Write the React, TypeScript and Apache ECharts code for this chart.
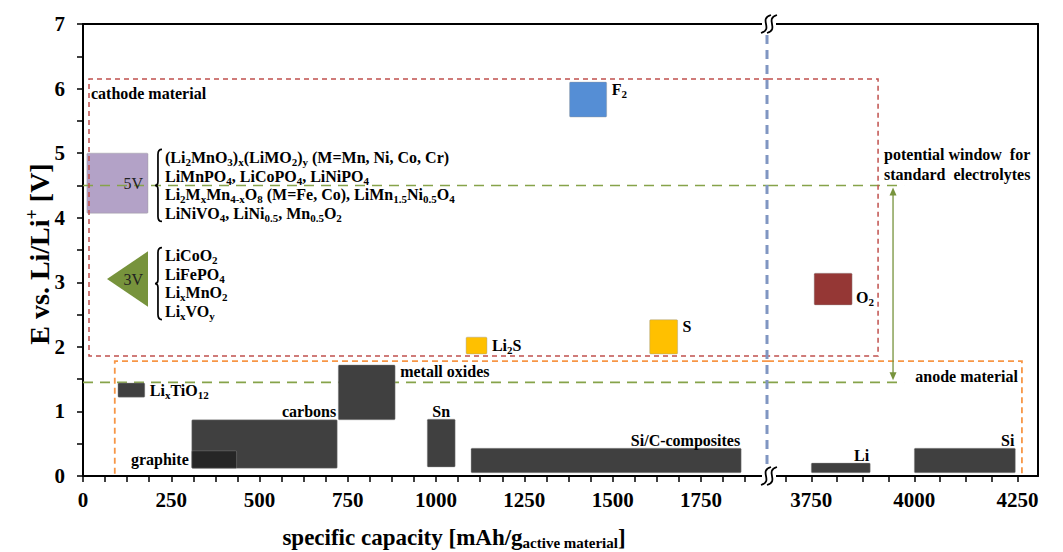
import { useEffect, useRef } from 'react';
import * as echarts from 'echarts';

const SERIF = '"Liberation Serif", "Times New Roman", Times, serif';

// ---------- axes ----------
const yLabels = [0, 1, 2, 3, 4, 5, 6, 7];
const yTicks = [0, 0.5, 1, 1.5, 2, 2.5, 3, 3.5, 4, 4.5, 5, 5.5, 6, 6.5, 7];
const xLeftRange = [0, 1940];
const xRightRange = [3645, 4300];
const xLeftLabels = [0, 250, 500, 750, 1000, 1250, 1500, 1750];
const xLeftTicks = [0, 62.5, 125, 187.5, 250, 312.5, 375, 437.5, 500, 562.5, 625, 687.5, 750, 812.5, 875, 937.5, 1000, 1062.5, 1125, 1187.5, 1250, 1312.5, 1375, 1437.5, 1500, 1562.5, 1625, 1687.5, 1750, 1812.5, 1875];
const xRightLabels = [3750, 4000, 4250];
const xRightTicks = [3687.5, 3750, 3812.5, 3875, 3937.5, 4000, 4062.5, 4125, 4187.5, 4250];

// ---------- anode materials ----------
const anodeLeftNames = ['Li_{x}TiO_{12}', 'carbons', 'graphite', 'metall oxides', 'Sn', 'Si/C-composites'];
const anodeLeftCapacity = [[99, 175], [308, 720], [308, 435], [723, 884], [975, 1054], [1099, 1864]];
const anodeLeftVoltage = [[1.22, 1.44], [0.12, 0.87], [0.12, 0.39], [0.87, 1.72], [0.14, 0.88], [0.05, 0.43]];
const anodeLeftPlace = ['right', 'topRight', 'left', 'rightTop', 'top', 'topRight'];
const anodeLeftColors = ['#404040', '#404040', '#262626', '#404040', '#404040', '#404040'];

const anodeRightNames = ['Li', 'Si'];
const anodeRightCapacity = [[3750, 3893], [4000, 4245]];
const anodeRightVoltage = [[0.05, 0.2], [0.05, 0.43]];
const anodeRightPlace = ['topRight', 'topRight'];

// ---------- conversion cathodes ----------
const convLeftNames = ['F_{2}', 'Li_{2}S', 'S'];
const convLeftCapacity = [[1378, 1483], [1085, 1144], [1605, 1684]];
const convLeftVoltage = [[5.56, 6.1], [1.89, 2.15], [1.89, 2.42]];
const convLeftColors = ['#558ed5', '#ffc000', '#ffc000'];
const convLeftPlace = ['rightTop', 'right', 'rightTop'];

const convRightNames = ['O_{2}'];
const convRightCapacity = [[3757, 3849]];
const convRightVoltage = [[2.65, 3.14]];
const convRightColors = ['#953735'];
const convRightPlace = ['rightBottom'];

// ---------- intercalation cathodes ----------
const highVoltCapacity = [11, 184];
const highVoltVoltage = [4.07, 5.0];
const highVoltFormulas = [
  '(Li_{2}MnO_{3})_{x}(LiMO_{2})_{y} (M=Mn, Ni, Co, Cr)',
  'LiMnPO_{4}, LiCoPO_{4}, LiNiPO_{4}',
  'Li_{2}M_{x}Mn_{4-x}O_{8} (M=Fe, Co), LiMn_{1.5}Ni_{0.5}O_{4}',
  'LiNiVO_{4}, LiNi_{0.5}, Mn_{0.5}O_{2}',
];
const lowVoltCapacity = [68, 184];
const lowVoltVoltage = [2.62, 3.48];
const lowVoltFormulas = ['LiCoO_{2}', 'LiFePO_{4}', 'Li_{x}MnO_{2}', 'Li_{x}VO_{y}'];
const formulaGroupVoltage = [4.5, 2.98];

// ---------- regions ----------
const cathodeBoxCapacity = [17, 3912];
const cathodeBoxVoltage = [1.86, 6.15];
const anodeBoxCapacity = [90, 4261];
const anodeBoxVoltage = [0, 1.78];
const windowVoltage = [1.45, 4.5];
const windowCapacityEnd = 3975;

// ---------- styles ----------
const TXT = '#000';
const RICH: any = {
  n: { fontFamily: SERIF, fontWeight: 'bold', fontSize: 16, lineHeight: 20, fill: TXT },
  s: { fontFamily: SERIF, fontWeight: 'bold', fontSize: 11, lineHeight: 11, fill: TXT, verticalAlign: 'bottom' },
  p: { fontFamily: SERIF, fontWeight: 'bold', fontSize: 11, lineHeight: 11, fill: TXT, verticalAlign: 'top' },
  r: { fontFamily: SERIF, fontWeight: 'normal', fontSize: 16, lineHeight: 20, fill: '#222' },
};

function rt(s: string, n = 'n', sub = 's', sup = 'p') {
  const re = /([_^])\{([^}]*)\}/g;
  let out = '';
  let last = 0;
  let m: RegExpExecArray | null;
  while ((m = re.exec(s))) {
    if (m.index > last) out += `{${n}|${s.slice(last, m.index)}}`;
    out += `{${m[1] === '_' ? sub : sup}|${m[2]}}`;
    last = re.lastIndex;
  }
  if (last < s.length) out += `{${n}|${s.slice(last)}}`;
  return out;
}

type El = (api: any) => any;
const P = (api: any, x: number, y: number): number[] => api.coord([x, y]);

function textObj(x: number, y: number, text: string, align = 'left', va = 'middle', rich = RICH) {
  return { type: 'text', x, y, style: { text, rich, align, verticalAlign: va } };
}

function rectEl(cap: number[], volt: number[], fill: string): El {
  return (api) => {
    const a = P(api, cap[0], volt[1]);
    const b = P(api, cap[1], volt[0]);
    return {
      type: 'rect',
      shape: { x: a[0], y: a[1], width: b[0] - a[0], height: b[1] - a[1], r: 1 },
      style: { fill, stroke: 'rgba(150,150,150,0.5)', lineWidth: 0.8 },
    };
  };
}

function labelEl(cap: number[], volt: number[], name: string, place: string): El {
  return (api) => {
    const a = P(api, cap[0], volt[1]);
    const b = P(api, cap[1], volt[0]);
    let x = b[0] + 5;
    let y = (a[1] + b[1]) / 2;
    let align = 'left';
    if (place === 'rightTop') y = a[1] + 7;
    else if (place === 'rightBottom') { x = b[0] + 4; y = b[1] - 7; }
    else if (place === 'left') { x = a[0] - 3; align = 'right'; }
    else if (place === 'top') { x = (a[0] + b[0]) / 2; y = a[1] - 8; align = 'center'; }
    else if (place === 'topRight') { x = b[0] - 1; y = a[1] - 8; align = 'right'; }
    return textObj(x, y, rt(name), align);
  };
}

function polyEl(pts: number[][], stroke: string, lineWidth: number, lineDash: number[] | null): El {
  return (api) => ({
    type: 'polyline',
    shape: { points: pts.map((p) => P(api, p[0], p[1])) },
    style: { stroke, lineWidth, lineDash: lineDash || undefined, fill: null },
  });
}

function braceGroup(rightCap: number, centerVolt: number, lines: string[]): El[] {
  const spacing = 18.5;
  const els: El[] = [];
  els.push((api) => {
    const c = P(api, rightCap, centerVolt);
    const xl = c[0] + 7;
    const xr = c[0] + 14;
    const xm = c[0] + 10;
    const yt = c[1] - 36;
    const yb = c[1] + 36;
    const ym = c[1];
    const d = `M${xr},${yt} Q${xm},${yt} ${xm},${yt + 5} L${xm},${ym - 4} Q${xm},${ym} ${xl},${ym} Q${xm},${ym} ${xm},${ym + 4} L${xm},${yb - 5} Q${xm},${yb} ${xr},${yb}`;
    return { type: 'path', shape: { pathData: d }, style: { stroke: '#000', lineWidth: 1.7, fill: null } };
  });
  lines.forEach((ln, i) => {
    els.push((api) => {
      const c = P(api, rightCap, centerVolt);
      return textObj(c[0] + 17, c[1] + (i - (lines.length - 1) / 2) * spacing, rt(ln));
    });
  });
  return els;
}

const RED = '#c0504d';
const ORANGE = '#f79646';
const GREEN = '#86a34a';
const OLIVE = '#77933c';
const BLUE = '#8096c2';

function buildLeft(): El[] {
  const [L0, L1] = xLeftRange;
  const els: El[] = [];
  els.push(rectEl(highVoltCapacity, highVoltVoltage, '#b3a2c7'));
  els.push((api) => {
    const tip = P(api, lowVoltCapacity[0], (lowVoltVoltage[0] + lowVoltVoltage[1]) / 2);
    const t = P(api, lowVoltCapacity[1], lowVoltVoltage[1]);
    const b = P(api, lowVoltCapacity[1], lowVoltVoltage[0]);
    return { type: 'polygon', shape: { points: [tip, t, b] }, style: { fill: OLIVE } };
  });
  windowVoltage.forEach((v) => els.push(polyEl([[L0, v], [L1, v]], GREEN, 1.6, [10, 7])));
  els.push(polyEl([[L1, cathodeBoxVoltage[1]], [cathodeBoxCapacity[0], cathodeBoxVoltage[1]], [cathodeBoxCapacity[0], cathodeBoxVoltage[0]], [L1, cathodeBoxVoltage[0]]], RED, 1.5, [5, 4]));
  els.push(polyEl([[L1, anodeBoxVoltage[1]], [anodeBoxCapacity[0], anodeBoxVoltage[1]], [anodeBoxCapacity[0], anodeBoxVoltage[0]]], ORANGE, 1.8, [6, 4]));
  anodeLeftNames.forEach((_, i) => els.push(rectEl(anodeLeftCapacity[i], anodeLeftVoltage[i], anodeLeftColors[i])));
  anodeLeftNames.forEach((nm, i) => els.push(labelEl(anodeLeftCapacity[i], anodeLeftVoltage[i], nm, anodeLeftPlace[i])));
  convLeftNames.forEach((_, i) => els.push(rectEl(convLeftCapacity[i], convLeftVoltage[i], convLeftColors[i])));
  convLeftNames.forEach((nm, i) => els.push(labelEl(convLeftCapacity[i], convLeftVoltage[i], nm, convLeftPlace[i])));
  els.push((api) => {
    const c = P(api, highVoltCapacity[1], (highVoltVoltage[0] + highVoltVoltage[1]) / 2);
    return textObj(c[0] - 5, c[1], '{r|5V}', 'right');
  });
  els.push((api) => {
    const c = P(api, lowVoltCapacity[1], (lowVoltVoltage[0] + lowVoltVoltage[1]) / 2);
    return textObj(c[0] - 5, c[1], '{r|3V}', 'right');
  });
  els.push(...braceGroup(highVoltCapacity[1], formulaGroupVoltage[0], highVoltFormulas));
  els.push(...braceGroup(lowVoltCapacity[1], formulaGroupVoltage[1], lowVoltFormulas));
  els.push((api) => {
    const c = P(api, cathodeBoxCapacity[0], cathodeBoxVoltage[1]);
    return textObj(c[0] + 2, c[1] + 15, rt('cathode material'));
  });
  return els;
}

function buildRight(): El[] {
  const [R0] = xRightRange;
  const els: El[] = [];
  windowVoltage.forEach((v) => els.push(polyEl([[R0, v], [windowCapacityEnd, v]], GREEN, 1.6, [10, 7])));
  els.push(polyEl([[R0, cathodeBoxVoltage[1]], [cathodeBoxCapacity[1], cathodeBoxVoltage[1]], [cathodeBoxCapacity[1], cathodeBoxVoltage[0]], [R0, cathodeBoxVoltage[0]]], RED, 1.5, [5, 4]));
  els.push(polyEl([[R0, anodeBoxVoltage[1]], [anodeBoxCapacity[1], anodeBoxVoltage[1]], [anodeBoxCapacity[1], anodeBoxVoltage[0]]], ORANGE, 1.8, [6, 4]));
  els.push((api) => {
    const end = P(api, windowCapacityEnd, windowVoltage[1]);
    const low = P(api, windowCapacityEnd, windowVoltage[0]);
    const x = end[0] - 11;
    const yt = end[1] + 2;
    const yb = low[1] - 2;
    return {
      type: 'group',
      children: [
        { type: 'line', shape: { x1: x, y1: yt + 5, x2: x, y2: yb - 5 }, style: { stroke: OLIVE, lineWidth: 1.3 } },
        { type: 'polygon', shape: { points: [[x, yt], [x - 3.5, yt + 8], [x + 3.5, yt + 8]] }, style: { fill: OLIVE } },
        { type: 'polygon', shape: { points: [[x, yb], [x - 3.5, yb - 8], [x + 3.5, yb - 8]] }, style: { fill: OLIVE } },
      ],
    };
  });
  anodeRightNames.forEach((_, i) => els.push(rectEl(anodeRightCapacity[i], anodeRightVoltage[i], '#404040')));
  anodeRightNames.forEach((nm, i) => els.push(labelEl(anodeRightCapacity[i], anodeRightVoltage[i], nm, anodeRightPlace[i])));
  convRightNames.forEach((_, i) => els.push(rectEl(convRightCapacity[i], convRightVoltage[i], convRightColors[i])));
  convRightNames.forEach((nm, i) => els.push(labelEl(convRightCapacity[i], convRightVoltage[i], nm, convRightPlace[i])));
  els.push((api) => {
    const c = P(api, cathodeBoxCapacity[1], windowVoltage[1]);
    return textObj(c[0] + 6, c[1] - 1, '{n|potential window  for}\n{n|standard  electrolytes}', 'left', 'bottom');
  });
  els.push((api) => {
    const c = P(api, anodeBoxCapacity[1], anodeBoxVoltage[1]);
    return textObj(c[0] - 4, c[1] + 15, rt('anode material'), 'right');
  });
  els.push((api) => {
    const t = P(api, R0, 7);
    const b = P(api, R0, 0);
    return {
      type: 'line',
      shape: { x1: t[0] - 1, y1: t[1] + 11, x2: t[0] - 1, y2: b[1] - 10 },
      style: { stroke: BLUE, lineWidth: 3, lineDash: [9, 6] },
    };
  });
  [0, 7].forEach((v) => {
    els.push((api) => {
      const c = P(api, R0, v);
      const cx = c[0] + 1;
      const cy = c[1];
      const s = (sx: number) => `M${sx + 5},${cy - 9} C${sx - 8},${cy - 5} ${sx + 8},${cy + 5} ${sx - 5},${cy + 9}`;
      return {
        type: 'group',
        children: [
          { type: 'rect', shape: { x: cx - 7, y: cy - 3, width: 14, height: 6 }, style: { fill: '#fff' } },
          { type: 'path', shape: { pathData: s(cx - 3) }, style: { stroke: '#000', lineWidth: 1.8, fill: null } },
          { type: 'path', shape: { pathData: s(cx + 3) }, style: { stroke: '#000', lineWidth: 1.8, fill: null } },
        ],
      };
    });
  });
  return els;
}

function buildOption() {
  const leftEls = buildLeft();
  const rightEls = buildRight();
  const axisLine = { show: true, onZero: false, lineStyle: { color: '#000', width: 2 } };
  const tick = (vals: number[]) => ({ show: true, customValues: vals, length: 6, inside: false, lineStyle: { color: '#000', width: 1.5 } });
  const lab = (vals: number[], margin: number) => ({
    show: true, customValues: vals, margin, color: '#000', fontFamily: SERIF, fontWeight: 'bold', fontSize: 21,
    formatter: (v: number) => String(v),
  });
  const none = { show: false };
  const title: any = {
    n: { fontFamily: SERIF, fontWeight: 'bold', fontSize: 23, fill: '#000', lineHeight: 27 },
    s: { fontFamily: SERIF, fontWeight: 'bold', fontSize: 15, fill: '#000', lineHeight: 15, verticalAlign: 'bottom' },
  };
  const ytitle: any = {
    n: { fontFamily: SERIF, fontWeight: 'bold', fontSize: 28, fill: '#000', lineHeight: 32 },
    p: { fontFamily: SERIF, fontWeight: 'bold', fontSize: 18, fill: '#000', lineHeight: 18, verticalAlign: 'top' },
  };
  return {
    animation: false,
    backgroundColor: '#fff',
    grid: [
      { left: 83, top: 24, width: 685, height: 452 },
      { left: 768, top: 24, width: 270, height: 452 },
    ],
    xAxis: [
      { gridIndex: 0, type: 'value', min: xLeftRange[0], max: xLeftRange[1], position: 'bottom', axisLine, axisTick: tick(xLeftTicks), axisLabel: lab(xLeftLabels, 13), splitLine: none },
      { gridIndex: 1, type: 'value', min: xRightRange[0], max: xRightRange[1], position: 'bottom', axisLine, axisTick: tick(xRightTicks), axisLabel: lab(xRightLabels, 13), splitLine: none },
      { gridIndex: 0, type: 'value', min: xLeftRange[0], max: xLeftRange[1], position: 'top', axisLine, axisTick: none, axisLabel: none, splitLine: none },
      { gridIndex: 1, type: 'value', min: xRightRange[0], max: xRightRange[1], position: 'top', axisLine, axisTick: none, axisLabel: none, splitLine: none },
    ],
    yAxis: [
      { gridIndex: 0, type: 'value', min: 0, max: 7, position: 'left', axisLine, axisTick: tick(yTicks), axisLabel: lab(yLabels, 18), splitLine: none },
      { gridIndex: 1, type: 'value', min: 0, max: 7, position: 'right', axisLine, axisTick: none, axisLabel: none, splitLine: none },
    ],
    graphic: [
      { type: 'text', x: 454, y: 537, style: { text: '{n|specific capacity [mAh/g}{s|active material}{n|]}', rich: title, align: 'center', verticalAlign: 'middle' } },
      { type: 'text', x: 39, y: 254, rotation: Math.PI / 2, style: { text: '{n|E vs. Li/Li}{p|+}{n| [V]}', rich: ytitle, align: 'center', verticalAlign: 'middle' } },
    ],
    series: [
      { type: 'custom', xAxisIndex: 0, yAxisIndex: 0, silent: true, z: 3, data: leftEls.map(() => [xLeftRange[0], 0]), renderItem: (params: any, api: any) => leftEls[params.dataIndex](api) },
      { type: 'custom', xAxisIndex: 1, yAxisIndex: 1, silent: true, z: 3, data: rightEls.map(() => [xRightRange[0], 0]), renderItem: (params: any, api: any) => rightEls[params.dataIndex](api) },
    ],
  };
}

export default function App() {
  const ref = useRef<HTMLDivElement>(null);
  useEffect(() => {
    document.body.style.margin = '0';
    const chart = echarts.init(ref.current!, null, { renderer: 'svg' });
    chart.setOption(buildOption() as any);
    return () => chart.dispose();
  }, []);
  return <div ref={ref} style={{ width: 1063, height: 552 }} />;
}
